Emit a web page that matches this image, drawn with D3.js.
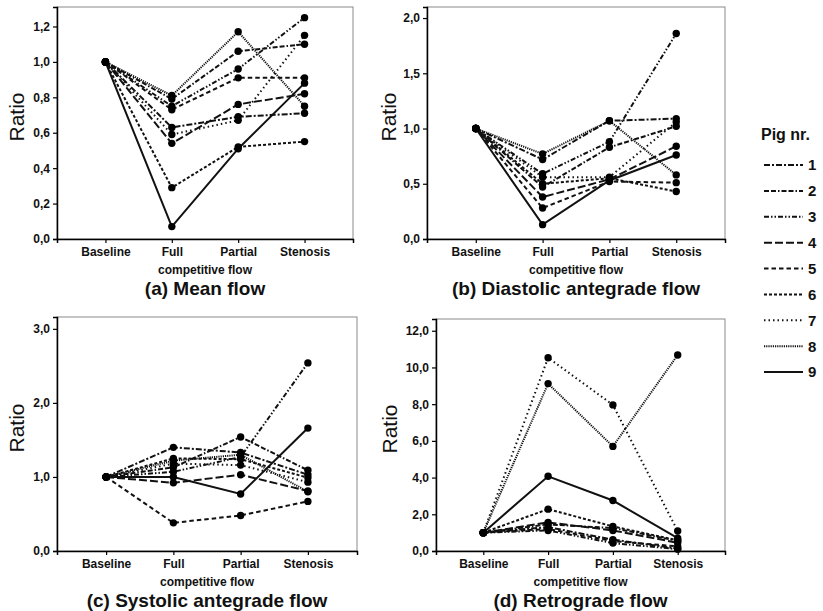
<!DOCTYPE html>
<html>
<head>
<meta charset="utf-8">
<script src="https://cdn.jsdelivr.net/npm/d3@7"></script>
<style>
  body { margin: 0; background: #fff; }
  svg { font-family: "Liberation Sans", Arial, sans-serif; }
</style>
</head>
<body>
<svg id="chart" width="823" height="611"></svg>
<script>
const stages = ["Baseline", "Full", "Partial", "Stenosis"];
const pigs = ["1", "2", "3", "4", "5", "6", "7", "8", "9"];

// ratio per pig (rows = pig 1..9, cols = stages)
const meanFlow = [
  [1, 0.63, 0.69, 0.71],
  [1, 0.79, 1.06, 1.10],
  [1, 0.75, 0.96, 1.25],
  [1, 0.54, 0.76, 0.82],
  [1, 0.73, 0.91, 0.91],
  [1, 0.29, 0.52, 0.55],
  [1, 0.59, 0.67, 1.15],
  [1, 0.81, 1.17, 0.75],
  [1, 0.07, 0.51, 0.88]
];
const diastolicFlow = [
  [1, 0.72, 1.07, 1.09],
  [1, 0.47, 0.83, 1.02],
  [1, 0.59, 0.88, 1.86],
  [1, 0.38, 0.54, 0.84],
  [1, 0.28, 0.52, 0.51],
  [1, 0.50, 0.55, 0.43],
  [1, 0.56, 0.56, 1.06],
  [1, 0.77, 1.07, 0.58],
  [1, 0.13, 0.53, 0.76]
];
const systolicFlow = [
  [1, 1.40, 1.33, 1.03],
  [1, 1.13, 1.54, 1.09],
  [1, 1.07, 1.27, 2.54],
  [1, 0.92, 1.03, 0.81],
  [1, 0.38, 0.48, 0.67],
  [1, 1.25, 1.24, 0.99],
  [1, 1.18, 1.16, 0.93],
  [1, 1.22, 1.30, 0.80],
  [1, 1.00, 0.77, 1.66]
];
const retrogradeFlow = [
  [1, 1.30, 0.62, 0.13],
  [1, 1.45, 1.25, 0.55],
  [1, 1.12, 0.43, 0.10],
  [1, 1.56, 1.12, 0.45],
  [1, 1.20, 0.54, 0.25],
  [1, 2.28, 1.34, 0.58],
  [1, 10.53, 7.96, 1.09],
  [1, 9.12, 5.70, 10.68],
  [1, 4.07, 2.75, 0.70]
];

const ticksA = [0, 0.2, 0.4, 0.6, 0.8, 1.0, 1.2];
const ticksB = [0, 0.5, 1.0, 1.5, 2.0];
const ticksC = [0, 1, 2, 3];
const ticksD = [0, 2, 4, 6, 8, 10, 12];

// dash pattern per pig, same order as legend
const dashes = ["6,2,2,2", "5,2,5,2,1.5,2", "5,2,1.5,2,1.5,2", "8,3", "4.5,3",
                "3,2", "1.5,3", "1.2,1", null];

const svg = d3.select("#chart");
const fmt = d => d3.format(".1f")(d).replace(".", ",");

function drawPanel(p) {
  const g = svg.append("g");
  const x = d3.scalePoint().domain(stages).range([p.left, p.right]).padding(0.73);
  const y = d3.scaleLinear().domain([0, p.ymax]).range([p.bottom, p.top]);

  // frame
  g.append("rect")
    .attr("x", p.left).attr("y", p.top)
    .attr("width", p.right - p.left).attr("height", p.bottom - p.top)
    .attr("fill", "none").attr("stroke", "#8a8a8a").attr("stroke-width", 1);

  const yAxis = g.append("g")
    .attr("transform", `translate(${p.left},0)`)
    .call(d3.axisLeft(y).tickValues(p.ticks).tickFormat(fmt).tickSize(4).tickPadding(3));
  const xAxis = g.append("g")
    .attr("transform", `translate(0,${p.bottom})`)
    .call(d3.axisBottom(x).tickSize(4).tickPadding(4));
  [yAxis, xAxis].forEach(a => {
    a.select(".domain").attr("stroke", "#000").attr("stroke-width", 1.5);
    a.selectAll(".tick line").attr("stroke", "#000").attr("stroke-width", 1.2);
    a.selectAll("text").attr("font-size", 12).attr("font-weight", "bold")
      .attr("font-family", "'Liberation Sans', Arial, sans-serif").attr("fill", "#111");
  });
  xAxis.selectAll("text").attr("dy", "0.75em");

  g.append("text")
    .attr("x", (x("Full") + x("Partial")) / 2).attr("y", p.bottom + 35)
    .attr("text-anchor", "middle").attr("font-size", 12).attr("font-weight", "bold")
    .attr("fill", "#111").text("competitive flow");

  g.append("text")
    .attr("x", (p.left + p.right) / 2).attr("y", p.bottom + 56)
    .attr("text-anchor", "middle").attr("font-size", 19).attr("font-weight", "bold")
    .attr("fill", "#111").text(p.title);

  g.append("text")
    .attr("transform", `translate(${p.labelX},${(p.top + p.bottom) / 2 - 6}) rotate(-90)`)
    .attr("text-anchor", "middle").attr("dy", "0.35em").attr("font-size", 21)
    .attr("fill", "#111").text("Ratio");

  const line = d3.line().x((d, i) => x(stages[i])).y(d => y(d));
  g.selectAll(".series")
    .data(p.data)
    .join("path")
    .attr("d", line)
    .attr("fill", "none")
    .attr("stroke", "#111")
    .attr("stroke-width", 2)
    .attr("stroke-dasharray", (d, i) => dashes[i]);

  p.data.forEach(row => {
    g.selectAll(null)
      .data(row)
      .join("circle")
      .attr("cx", (d, i) => x(stages[i]))
      .attr("cy", d => y(d))
      .attr("r", 3.7)
      .attr("fill", "#000");
  });
}

drawPanel({ data: meanFlow, title: "(a) Mean flow", ticks: ticksA, ymax: 1.31,
  left: 57, right: 353, top: 7, bottom: 239, labelX: 17 });
drawPanel({ data: diastolicFlow, title: "(b) Diastolic antegrade flow", ticks: ticksB, ymax: 2.1,
  left: 427, right: 725, top: 7, bottom: 239, labelX: 389 });
drawPanel({ data: systolicFlow, title: "(c) Systolic antegrade flow", ticks: ticksC, ymax: 3.16,
  left: 57, right: 357, top: 317, bottom: 551, labelX: 17 });
drawPanel({ data: retrogradeFlow, title: "(d) Retrograde flow", ticks: ticksD, ymax: 12.64,
  left: 436, right: 725, top: 319, bottom: 551, labelX: 390 });

// legend
const legend = svg.append("g");
legend.append("text")
  .attr("x", 761).attr("y", 140)
  .attr("font-size", 16).attr("font-weight", "bold").attr("fill", "#111")
  .text("Pig nr.");
const ly = d3.scalePoint().domain(pigs).range([165, 372]);
const items = legend.selectAll(".item")
  .data(pigs)
  .join("g")
  .attr("transform", d => `translate(0,${ly(d)})`);
items.append("line")
  .attr("x1", 764).attr("x2", 803)
  .attr("stroke", "#111").attr("stroke-width", 2)
  .attr("stroke-dasharray", (d, i) => dashes[i]);
items.append("text")
  .attr("x", 808).attr("dy", "0.36em")
  .attr("font-size", 15).attr("font-weight", "bold").attr("fill", "#111")
  .text(d => d);
</script>
</body>
</html>
